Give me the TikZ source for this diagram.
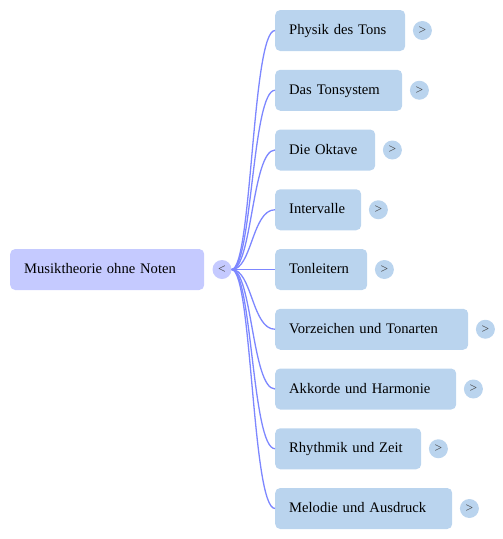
\documentclass[tikz,border=0pt]{standalone}
\usepackage{fontspec}
\setmainfont{Liberation Serif}
\usetikzlibrary{calc}
\definecolor{rootfill}{HTML}{C5CAFF}
\definecolor{childfill}{HTML}{BAD4EE}
\definecolor{linkcol}{HTML}{7D87FF}
\definecolor{togtext}{HTML}{444444}
\begin{document}
\begin{tikzpicture}[x=1pt,y=-1pt,
  box/.style={rectangle, rounded corners=5pt, draw=none, anchor=west, inner xsep=14pt, inner ysep=0pt, minimum height=41pt, text height=10.5pt, text depth=2.5pt, align=left, font=\fontsize{14.6}{16}\selectfont},
  rootbox/.style={box, fill=rootfill},
  childbox/.style={box, fill=childfill},
  tog/.style={circle, minimum size=19pt, inner sep=0pt, font=\fontsize{13.5}{13.5}\selectfont, text=togtext},
  link/.style={draw=linkcol, line width=1.3pt}
]
\useasboundingbox (0,0) rectangle (503,539);
\node[rootbox, text width=166pt] (root) at (10,269.5) {Musiktheorie ohne Noten};
\node[tog, fill=rootfill] (rt) at (222,269.5) {<};
\foreach \i/\w/\t in {0/130/Physik des Tons,1/127/Das Tonsystem,2/100/Die Oktave,3/86/Intervalle,4/92/Tonleitern,5/193/Vorzeichen und Tonarten,6/181/Akkorde und Harmonie,7/146/Rhythmik und Zeit,8/177/Melodie und Ausdruck}{
  \pgfmathsetmacro{\yy}{30.5+59.75*\i}
  \pgfmathsetmacro{\tw}{\w-28}
  \node[childbox, text width=\tw pt] (c\i) at (275,\yy) {\t};
  \node[tog, fill=childfill] (t\i) at ($(c\i.east)+(17,0)$) {>};
  \draw[link] (rt.east) .. controls (252,269.5) and (252,\yy) .. (c\i.west);
}
\end{tikzpicture}
\end{document}
